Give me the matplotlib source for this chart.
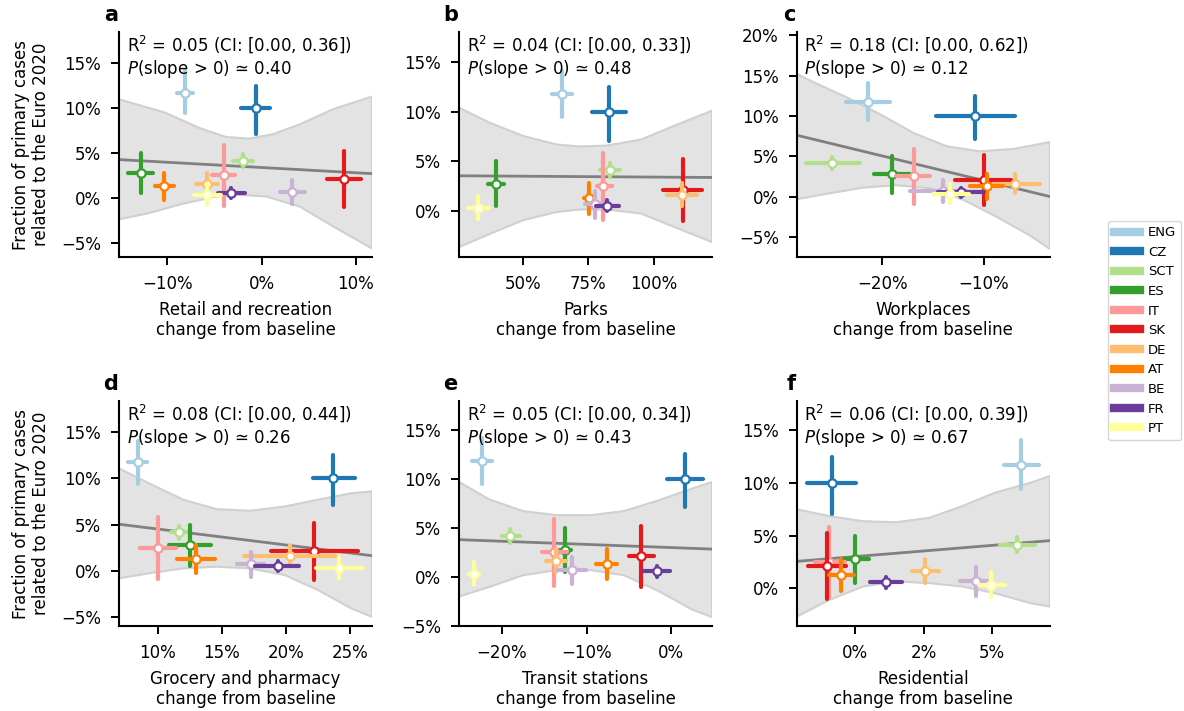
import matplotlib
matplotlib.use("Agg")
import matplotlib.pyplot as plt
from matplotlib.ticker import PercentFormatter, MultipleLocator, FixedLocator
from matplotlib.lines import Line2D

countries = ["ENG", "CZ", "SCT", "ES", "IT", "SK", "DE", "AT", "BE", "FR", "PT"]
colors = ["#a6cee3", "#1f78b4", "#b2df8a", "#33a02c", "#fb9a99", "#e31a1c",
          "#fdbf6f", "#ff7f00", "#cab2d6", "#6a3d9a", "#ffff99"]

# fraction of primary cases related to the Euro 2020 (%), with credible interval
frac = [11.75, 10.0, 4.15, 2.75, 2.5, 2.1, 1.6, 1.3, 0.7, 0.55, 0.3]
frac_lo = [9.45, 7.1, 3.4, 0.5, -0.9, -1.0, 0.5, -0.25, -0.7, 0.0, -0.8]
frac_hi = [14.1, 12.5, 4.85, 5.0, 5.85, 5.2, 2.8, 2.8, 2.0, 1.1, 1.5]

# mobility change from baseline (%) per category
retail = [-8.1, -0.6, -1.95, -12.8, -4.0, 8.77, -5.83, -10.3, 3.2, -3.2, -5.8]
retail_lo = [-9.0, -2.17, -3.05, -14.1, -5.26, 6.9, -6.96, -11.3, 1.92, -4.65, -7.2]
retail_hi = [-7.3, 0.92, -0.92, -11.5, -2.8, 10.55, -4.65, -9.27, 4.58, -1.74, -4.3]

parks = [64.9, 83.0, 83.4, 39.6, 80.7, 111.3, 110.7, 75.3, 77.4, 82.3, 33.0]
parks_lo = [61.1, 76.3, 79.5, 36.6, 78.5, 103.6, 105.2, 73.3, 73.6, 77.8, 28.9]
parks_hi = [68.6, 89.4, 87.2, 42.8, 84.0, 118.4, 116.5, 77.2, 81.7, 86.9, 37.2]

work = [-21.44, -10.85, -24.9, -19.0, -16.9, -9.97, -6.9, -9.67, -14.0, -12.2, -13.3]
work_lo = [-23.6, -14.7, -27.5, -20.8, -18.6, -12.8, -9.1, -11.4, -17.3, -14.5, -15.0]
work_hi = [-19.25, -6.95, -22.2, -17.3, -15.3, -7.3, -4.5, -8.1, -11.8, -10.0, -11.5]

grocery = [8.45, 23.7, 11.66, 12.55, 10.05, 22.2, 20.3, 13.0, 17.3, 19.35, 24.1]
grocery_lo = [7.7, 22.1, 11.05, 10.9, 8.6, 18.8, 16.7, 11.5, 16.2, 17.6, 22.3]
grocery_hi = [9.2, 25.4, 12.4, 14.2, 11.4, 25.6, 23.8, 14.5, 18.3, 21.0, 26.0]

transit = [-22.3, 1.6, -19.0, -12.5, -13.8, -3.6, -13.6, -7.6, -11.7, -1.67, -23.3]
transit_lo = [-23.5, -0.5, -20.0, -13.1, -15.3, -5.05, -14.8, -8.95, -13.4, -3.4, -23.9]
transit_hi = [-21.2, 3.7, -17.9, -11.9, -12.3, -2.0, -12.4, -6.4, -10.1, -0.12, -22.7]

resid = [6.06, -0.85, 5.91, 0.01, -0.94, -1.02, 2.55, -0.51, 4.39, 1.13, 4.96]
resid_lo = [5.41, -1.76, 5.29, -0.45, -1.48, -1.73, 2.08, -0.96, 3.81, 0.55, 4.5]
resid_hi = [6.7, 0.04, 6.55, 0.52, -0.39, -0.33, 3.05, -0.06, 4.9, 1.7, 5.45]

# regression line end points and its credible band
retail_fit_x, retail_fit_y = [-15.1, 11.7], [4.27, 2.7]
retail_up_x = [-15.1, -10.2, -6.6, -3.8, -1.3, 1.2, 4.05, 7.6, 11.7]
retail_up = [11.0, 9.5, 7.8, 6.8, 6.6, 7.1, 8.2, 9.9, 11.3]
retail_dn_x = [-15.1, -11.9, -8.4, -4.8, -2.3, 0.5, 4.05, 7.6, 11.7]
retail_dn = [-2.4, -1.7, -0.67, 0.15, 0.34, 0.15, -0.97, -3.2, -5.65]

parks_fit_x, parks_fit_y = [25.6, 122.3], [3.56, 3.39]
parks_band_x = [25.6, 37.2, 50.1, 63, 72, 82.3, 95.2, 108, 122.3]
parks_up = [10.4, 8.9, 7.56, 6.7, 6.5, 6.6, 7.2, 8.6, 10.1]
parks_dn = [-3.6, -2.3, -0.9, -0.07, 0.17, 0.17, -0.24, -1.6, -3.1]

work_fit_x, work_fit_y = [-28.4, -3.5], [7.6, 0.0]
work_up_x = [-28.4, -26.8, -23.5, -20.2, -16.95, -13.7, -10.4, -7.1, -3.5]
work_up = [15.2, 14.2, 12.3, 10.2, 7.9, 6.25, 5.6, 5.9, 6.75]
work_dn_x = [-28.4, -25.1, -21.9, -18.6, -15.3, -12.0, -8.75, -5.5, -3.5]
work_dn = [-0.33, 0.42, 1.1, 1.4, 1.04, -0.42, -2.5, -4.8, -6.5]

grocery_fit_x, grocery_fit_y = [7.0, 26.7], [5.04, 1.63]
grocery_band_x = [7.0, 9.3, 12.0, 14.6, 17.2, 19.9, 22.5, 25.1, 26.7]
grocery_up = [11.1, 9.5, 7.7, 6.67, 6.5, 6.96, 7.7, 8.4, 8.6]
grocery_dn = [-0.83, -0.29, 0.25, 0.43, 0.25, -0.47, -2.1, -4.1, -5.0]

transit_fit_x, transit_fit_y = [-25.05, 4.8], [3.79, 2.83]
transit_band_x = [-25.05, -21.5, -17.5, -13.5, -9.5, -5.6, -1.6, 2.4, 4.8]
transit_up = [9.66, 7.9, 6.7, 6.28, 6.28, 6.7, 7.76, 8.97, 9.66]
transit_dn = [-2.0, -1.03, 0.17, 0.69, 0.69, 0.17, -1.4, -3.3, -4.1]

resid_fit_x, resid_fit_y = [-2.13, 7.1], [2.55, 4.52]
resid_band_x = [-2.13, -0.94, 0.28, 1.5, 2.7, 3.9, 5.1, 6.4, 7.1]
resid_up = [7.5, 6.85, 6.37, 6.27, 6.69, 7.8, 9.08, 10.03, 10.67]
resid_dn = [-2.7, -1.11, 0.16, 0.64, 0.48, 0.16, -0.48, -1.43, -1.75]

r2 = ["0.05", "0.04", "0.18", "0.08", "0.05", "0.06"]
r2_ci = ["0.36", "0.33", "0.62", "0.44", "0.34", "0.39"]
p_slope = ["0.40", "0.48", "0.12", "0.26", "0.43", "0.67"]

panels = [
    ("a", "Retail and recreation", retail, retail_lo, retail_hi,
     retail_fit_x, retail_fit_y, retail_up_x, retail_up, retail_dn_x, retail_dn,
     (-15.1, 11.7), (-6.6, 18.5), [-10, 0, 10]),
    ("b", "Parks", parks, parks_lo, parks_hi,
     parks_fit_x, parks_fit_y, parks_band_x, parks_up, parks_band_x, parks_dn,
     (25.6, 122.3), (-4.6, 18.0), [50, 75, 100]),
    ("c", "Workplaces", work, work_lo, work_hi,
     work_fit_x, work_fit_y, work_up_x, work_up, work_dn_x, work_dn,
     (-28.4, -3.5), (-7.5, 20.4), [-20, -10]),
    ("d", "Grocery and pharmacy", grocery, grocery_lo, grocery_hi,
     grocery_fit_x, grocery_fit_y, grocery_band_x, grocery_up, grocery_band_x, grocery_dn,
     (7.0, 26.7), (-6.0, 18.4), [10, 15, 20, 25]),
    ("e", "Transit stations", transit, transit_lo, transit_hi,
     transit_fit_x, transit_fit_y, transit_band_x, transit_up, transit_band_x, transit_dn,
     (-25.05, 4.8), (-5.0, 17.9), [-20, -10, 0]),
    ("f", "Residential", resid, resid_lo, resid_hi,
     resid_fit_x, resid_fit_y, resid_band_x, resid_up, resid_band_x, resid_dn,
     (-2.13, 7.1), (-3.6, 17.8), [0, 2.5, 5]),
]

plt.rcParams["font.family"] = "DejaVu Sans"
plt.rcParams["axes.linewidth"] = 1.5
plt.rcParams["xtick.major.width"] = 1.4
plt.rcParams["ytick.major.width"] = 1.4
plt.rcParams["xtick.major.size"] = 6
plt.rcParams["ytick.major.size"] = 6
plt.rcParams["xtick.major.pad"] = 7
plt.rcParams["ytick.major.pad"] = 7

fig = plt.figure(figsize=(11.84, 7.11), dpi=100)
lefts = [0.1005, 0.3877, 0.673]
bottoms = [0.6385, 0.1195]
w, h = 0.2137, 0.3165

for i, (letter, name, xv, xlo, xhi, fx, fy, ux, uy, dx, dy,
        xlim, ylim, xticks) in enumerate(panels):
    ax = fig.add_axes([lefts[i % 3], bottoms[i // 3], w, h])

    # credible band of the regression
    ax.fill(list(ux) + list(dx)[::-1], list(uy) + list(dy)[::-1],
            facecolor="#e3e3e3", edgecolor="#d0d0d0", linewidth=1.5, zorder=1)
    ax.plot(fx, fy, color="#808080", linewidth=2, zorder=2)

    for j in range(len(countries)):
        eb = ax.errorbar(xv[j], frac[j],
                         xerr=[[xv[j] - xlo[j]], [xhi[j] - xv[j]]],
                         yerr=[[frac[j] - frac_lo[j]], [frac_hi[j] - frac[j]]],
                         fmt="o", color=colors[j], mfc="white", mec=colors[j],
                         ms=6, mew=1.6, elinewidth=3, capsize=0, zorder=3 + j)
        for col in eb[2]:
            col.set_capstyle("round")

    ax.set_xlim(*xlim)
    ax.set_ylim(*ylim)
    ax.xaxis.set_major_locator(FixedLocator(xticks))
    ax.yaxis.set_major_locator(MultipleLocator(5))
    ax.xaxis.set_major_formatter(PercentFormatter(100, decimals=0))
    ax.yaxis.set_major_formatter(PercentFormatter(100, decimals=0))
    ax.tick_params(labelsize=12)
    ax.spines["top"].set_visible(False)
    ax.spines["right"].set_visible(False)

    ax.set_xlabel(name + "\nchange from baseline", fontsize=12, labelpad=6,
                  linespacing=1.1)
    if i % 3 == 0:
        ax.set_ylabel("Fraction of primary cases\nrelated to the Euro 2020",
                      fontsize=12, labelpad=8, linespacing=1.1)

    ax.text(0.03, 0.995,
            "R$^2$ = %s (CI: [0.00, %s])\n$P$(slope > 0) \u2243 %s" % (r2[i], r2_ci[i], p_slope[i]),
            transform=ax.transAxes, ha="left", va="top", fontsize=12, zorder=20)
    ax.text(-0.005, 1.03, letter, transform=ax.transAxes, ha="right", va="bottom",
            fontsize=15, fontweight="bold")

handles = [Line2D([], [], color=c, linewidth=6) for c in colors]
fig.legend(handles, countries, loc="center left", bbox_to_anchor=(0.936, 0.535),
           fontsize=9.5, frameon=True, handlelength=2.0, handletextpad=0.6,
           borderpad=0.4, borderaxespad=0)

fig.savefig("out.png", dpi=100)
